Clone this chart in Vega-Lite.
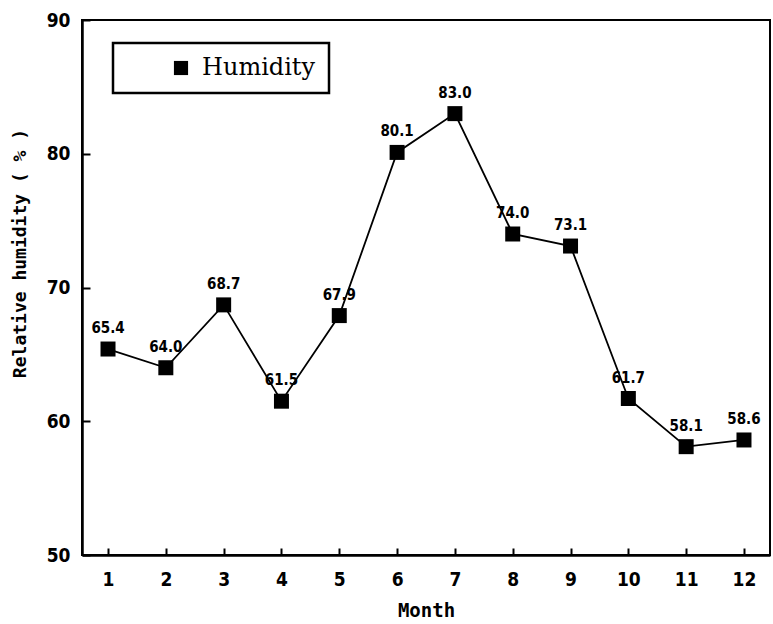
{
  "$schema": "https://vega.github.io/schema/vega-lite/v6.json",
  "width": 688,
  "height": 535,
  "autosize": "none",
  "padding": {"left": 82, "top": 20, "right": 3, "bottom": 69},
  "background": "white",
  "config": {
    "view": {"stroke": "black", "strokeWidth": 2},
    "axis": {"grid": false, "domainColor": "black", "domainWidth": 2.5, "tickColor": "black", "tickWidth": 2, "labelColor": "black", "titleColor": "black"},
    "legend": {"strokeWidth": 2.5}
  },
  "data": {
    "values": [
      {"month": 1, "humidity": 65.4, "series": "Humidity"},
      {"month": 2, "humidity": 64.0, "series": "Humidity"},
      {"month": 3, "humidity": 68.7, "series": "Humidity"},
      {"month": 4, "humidity": 61.5, "series": "Humidity"},
      {"month": 5, "humidity": 67.9, "series": "Humidity"},
      {"month": 6, "humidity": 80.1, "series": "Humidity"},
      {"month": 7, "humidity": 83.0, "series": "Humidity"},
      {"month": 8, "humidity": 74.0, "series": "Humidity"},
      {"month": 9, "humidity": 73.1, "series": "Humidity"},
      {"month": 10, "humidity": 61.7, "series": "Humidity"},
      {"month": 11, "humidity": 58.1, "series": "Humidity"},
      {"month": 12, "humidity": 58.6, "series": "Humidity"}
    ]
  },
  "encoding": {
    "x": {
      "field": "month", "type": "quantitative",
      "scale": {"domain": [0.55, 12.45], "nice": false, "zero": false},
      "axis": {
        "values": [1,2,3,4,5,6,7,8,9,10,11,12],
        "title": "Month",
        "tickSize": -7,
        "labelPadding": 22,
        "labelFont": "DejaVu Sans Condensed", "labelFontWeight": "bold", "labelFontSize": 19,
        "titleFont": "DejaVu Sans Mono", "titleFontWeight": "bold", "titleFontSize": 19,
        "titleBaseline": "middle", "titleY": 55
      }
    },
    "y": {
      "field": "humidity", "type": "quantitative",
      "scale": {"domain": [50, 90], "nice": false, "zero": false},
      "axis": {
        "values": [50, 60, 70, 80, 90],
        "title": "Relative humidity ( % )",
        "tickSize": -8,
        "labelPadding": 20,
        "labelFont": "DejaVu Sans Condensed", "labelFontWeight": "bold", "labelFontSize": 19,
        "titleFont": "DejaVu Sans Mono", "titleFontWeight": "bold", "titleFontSize": 18,
        "titleAngle": 270, "titleAlign": "center", "titleBaseline": "middle",
        "titleX": -62, "titleY": 233
      }
    }
  },
  "layer": [
    {
      "mark": {"type": "line", "color": "black", "strokeWidth": 1.8},
      "encoding": {}
    },
    {
      "mark": {"type": "point", "shape": "square", "filled": true, "opacity": 1, "size": 225, "color": "black"},
      "encoding": {
        "shape": {
          "field": "series", "type": "nominal",
          "scale": {"range": ["square"]},
          "legend": {
            "title": null,
            "orient": "none",
            "legendX": 31,
            "legendY": 23,
            "strokeColor": "black",
            "fillColor": "white",
            "padding": 13,
            "symbolOffset": 43,
            "symbolSize": 200,
            "symbolFillColor": "black",
            "symbolStrokeColor": "black",
            "symbolType": "square",
            "labelFont": "DejaVu Serif",
            "labelFontSize": 24,
            "labelColor": "black",
            "labelOffset": 9,
            "labelLimit": 300
          }
        }
      }
    },
    {
      "mark": {"type": "text", "font": "DejaVu Sans Condensed", "fontWeight": "bold", "fontSize": 15, "dy": -21, "color": "black"},
      "encoding": {
        "text": {"field": "humidity", "type": "quantitative", "format": ".1f"}
      }
    }
  ]
}
